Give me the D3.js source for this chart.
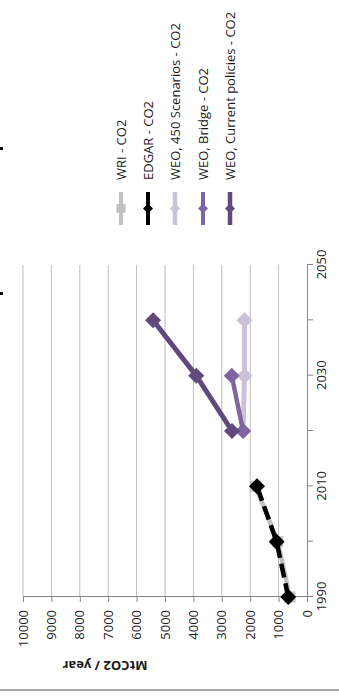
<!DOCTYPE html>
<html>
<head>
<meta charset="utf-8">
<script src="https://cdn.jsdelivr.net/npm/d3@7"></script>
<style>
  html, body { margin: 0; padding: 0; background: #fff; }
  svg { display: block; }
  text { font-family: "Open Sans", "DejaVu Sans", sans-serif; fill: #1a1a1a; }
</style>
</head>
<body>
<div id="chart"></div>
<script>
// ---- data ----
const histYears = [1990, 2000, 2010];
const wri = [600, 1030, 1810];
const edgar = [660, 1070, 1760];
const weoYears = [2020, 2030, 2040];
const weo450 = [2250, 2200, 2200];
const bridgeYears = [2020, 2030];
const weoBridge = [2250, 2650];
const weoCurrent = [2640, 3900, 5420];
const valueTicks = [0, 1000, 2000, 3000, 4000, 5000, 6000, 7000, 8000, 9000, 10000];
const yearTicks = [1990, 2000, 2010, 2020, 2030, 2040, 2050];
const yearLabels = [1990, 2010, 2030, 2050];
const seriesNames = ["WRI - CO2", "EDGAR - CO2", "WEO, 450 Scenarios - CO2", "WEO, Bridge - CO2", "WEO, Current policies - CO2"];

const SW = 339, SH = 698;
const H = SW; // unrotated frame height

const svg = d3.select("#chart").append("svg").attr("width", SW).attr("height", SH);
const g = svg.append("g").attr("transform", `translate(0,${SH}) rotate(-90)`);

const x = d3.scaleLinear().domain([1990, 2050]).range([101, 433]);
const y = d3.scaleLinear().domain([0, 10000]).range([307, 23]);

// border line
g.append("line").attr("x1", 8).attr("x2", 8).attr("y1", 0).attr("y2", H)
  .attr("stroke", "#8a8a8a").attr("stroke-width", 1.5);

// gridlines
g.append("g").selectAll("line").data(valueTicks.filter(v => v > 0)).join("line")
  .attr("x1", x(1990)).attr("x2", x(2050))
  .attr("y1", d => y(d)).attr("y2", d => y(d))
  .attr("stroke", "#bdbdbd").attr("stroke-width", 1);

// value axis
const yAxis = d3.axisLeft(y).tickValues(valueTicks).tickSize(5).tickPadding(8).tickFormat(d3.format("d"));
const ya = g.append("g").attr("transform", `translate(${x(1990)},0)`).call(yAxis);
ya.select(".domain").attr("stroke", "#868686").attr("stroke-width", 1);
ya.selectAll(".tick line").attr("stroke", "#868686");
ya.selectAll(".tick text").attr("font-size", 13).attr("font-family", "Open Sans").attr("fill", "#1a1a1a");

// year axis
const xAxis = d3.axisBottom(x).tickValues(yearTicks).tickSize(6).tickPadding(4)
  .tickFormat(d => yearLabels.includes(d) ? d : "");
const xa = g.append("g").attr("transform", `translate(0,${y(0)})`).call(xAxis);
xa.select(".domain").attr("stroke", "#868686").attr("stroke-width", 1);
xa.selectAll(".tick line").attr("stroke", "#868686");
xa.selectAll(".tick text").attr("font-size", 13).attr("font-family", "Open Sans").attr("fill", "#1a1a1a");

// axis title
g.append("text").attr("transform", `translate(37,105) rotate(-90)`)
  .attr("text-anchor", "middle").attr("font-size", 13).attr("font-weight", "bold")
  .text("MtCO2 / year");

// line helper
const line = d3.line().x(d => x(d[0])).y(d => y(d[1]));
function pairs(xs, vs) { return xs.map((k, i) => [k, vs[i]]); }
function diamondPath(r) { return `M0,${-r}L${r},0L0,${r}L${-r},0Z`; }

const series = [
  { name: seriesNames[0], data: pairs(histYears, wri), color: "#c0c0c0", width: 4.5, dash: null, marker: "square", msize: 11 },
  { name: seriesNames[1], data: pairs(histYears, edgar), color: "#000000", width: 4.5, dash: "14,6", marker: "diamond", msize: 16 },
  { name: seriesNames[2], data: pairs(weoYears, weo450), color: "#ccc1da", width: 5, dash: null, marker: "diamond", msize: 16 },
  { name: seriesNames[3], data: pairs(bridgeYears, weoBridge), color: "#8064a2", width: 4.5, dash: null, marker: "diamond", msize: 16 },
  { name: seriesNames[4], data: pairs(weoYears, weoCurrent), color: "#604a7b", width: 5, dash: null, marker: "diamond", msize: 16 }
];

series.forEach(s => {
  g.append("path").datum(s.data).attr("d", line)
    .attr("fill", "none").attr("stroke", s.color).attr("stroke-width", s.width)
    .attr("stroke-dasharray", s.dash);
  const m = g.append("g");
  s.data.forEach(d => {
    if (s.marker === "square") {
      m.append("rect").attr("x", x(d[0]) - s.msize / 2).attr("y", y(d[1]) - s.msize / 2)
        .attr("width", s.msize).attr("height", s.msize).attr("fill", s.color);
    } else {
      m.append("path").attr("d", diamondPath(s.msize / 2))
        .attr("transform", `translate(${x(d[0])},${y(d[1])})`).attr("fill", s.color);
    }
  });
});

// legend
const legY = [121, 148, 175, 203, 230];
const leg = g.append("g");
series.forEach((s, i) => {
  const cy = legY[i];
  leg.append("line").attr("x1", 473).attr("x2", 506).attr("y1", cy).attr("y2", cy)
    .attr("stroke", s.color).attr("stroke-width", s.width - 0.5);
  if (s.marker === "square") {
    leg.append("rect").attr("x", 489.5 - 4.5).attr("y", cy - 4.5).attr("width", 9).attr("height", 9).attr("fill", s.color);
  } else {
    leg.append("path").attr("d", diamondPath(5)).attr("transform", `translate(489.5,${cy})`).attr("fill", s.color);
  }
  leg.append("text").attr("x", 518).attr("y", cy).attr("dominant-baseline", "central")
    .attr("font-size", 13).text(s.name);
});

// cut-off remnants of a title at the edge
g.append("rect").attr("x", 403).attr("y", 0).attr("width", 3).attr("height", 3).attr("fill", "#000");
g.append("rect").attr("x", 548).attr("y", 0).attr("width", 3).attr("height", 3).attr("fill", "#000");
</script>
</body>
</html>
